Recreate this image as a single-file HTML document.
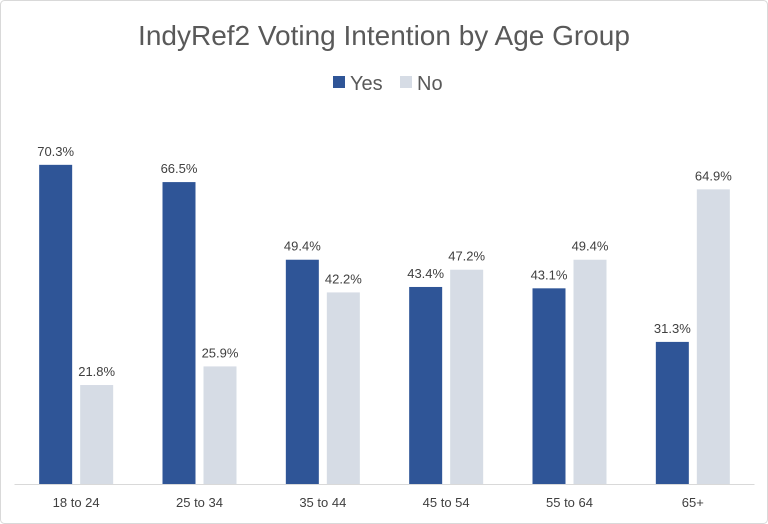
<!DOCTYPE html>
<html><head><meta charset="utf-8">
<style>
body{margin:0;background:#fff;}
#wrap{position:relative;width:768px;height:524px;overflow:hidden;font-family:"Liberation Sans",Arial,sans-serif;}
</style></head>
<body>
<div id="wrap">
<svg id="chart" width="768" height="524" xmlns="http://www.w3.org/2000/svg">
<rect x="0.5" y="0.5" width="767" height="523" rx="4" fill="#fff" stroke="#d9d9d9"/>
<text x="384" y="45" text-anchor="middle" font-size="28" fill="#595959">IndyRef2 Voting Intention by Age Group</text>
<g>
<g><rect x="333" y="76" width="12" height="12" fill="#2f5597"/><text x="350" y="90" font-size="20" fill="#595959">Yes</text></g>
<g><rect x="400" y="76" width="12" height="12" fill="#d6dce5"/><text x="417" y="90" font-size="20" fill="#595959">No</text></g>
</g>
<g id="plot"></g>
</svg>
</div>
<script>
const categories=["18 to 24","25 to 34","35 to 44","45 to 54","55 to 64","65+"];
const yesValues=[70.3,66.5,49.4,43.4,43.1,31.3];
const noValues=[21.8,25.9,42.2,47.2,49.4,64.9];
const NS="http://www.w3.org/2000/svg";
const plot=document.getElementById('plot');
const left=14.5,right=754.5,base=484,pxPer=4.54;
const band=(right-left)/categories.length;
const bw=33,gap=8;
function xc(i){return left+band*(i+0.5);}
function y(v){return base-v*pxPer;}
function mk(tag,attrs){const e=document.createElementNS(NS,tag);for(const k in attrs)e.setAttribute(k,attrs[k]);plot.appendChild(e);return e;}
categories.forEach((c,i)=>{
  const cx=xc(i);
  [[yesValues[i],cx-gap/2-bw,'#2f5597','yes'],[noValues[i],cx+gap/2,'#d6dce5','no']].forEach(([v,x,col,s])=>{
    const r=mk('rect',{x:x,y:y(v),width:bw,height:v*pxPer,fill:col});
    
    
    const t=mk('text',{x:x+bw/2,y:y(v)-9,'text-anchor':'middle','font-size':13,fill:'#404040'});
    t.textContent=v.toFixed(1)+'%';
    
    
  });
  const l=mk('text',{x:cx,y:507,'text-anchor':'middle','font-size':13,fill:'#404040'});
  l.textContent=c;
  
  
});
const ax=mk('line',{x1:left,x2:right,y1:base+0.5,y2:base+0.5,stroke:'#d9d9d9','stroke-width':1});


</script>
</body></html>
